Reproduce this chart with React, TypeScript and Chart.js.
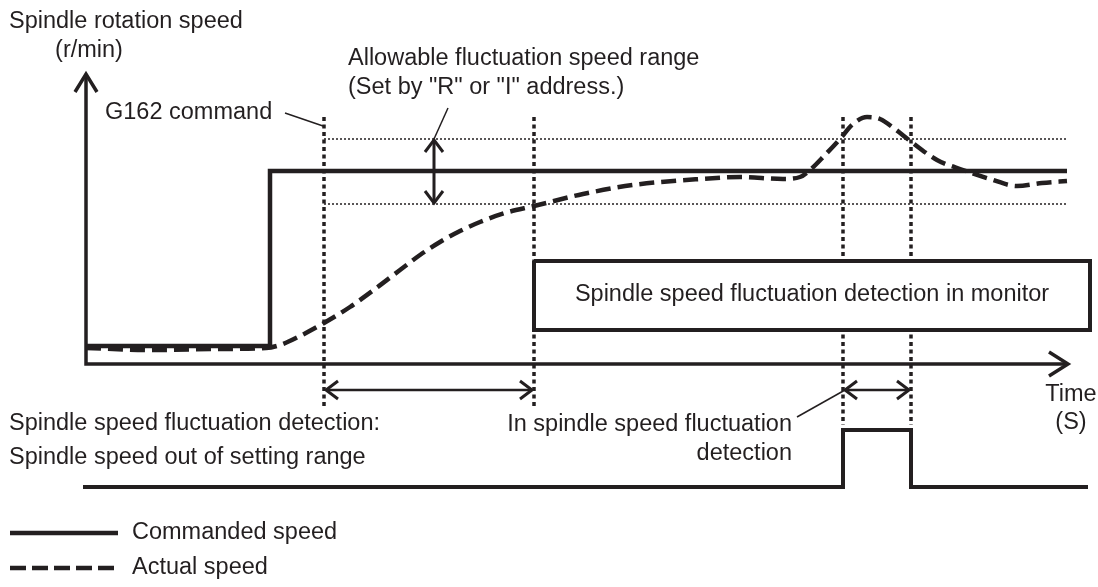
import React, { useEffect, useRef } from "react";
import { Chart, registerables } from "chart.js";

Chart.register(...registerables);

type P = { x: number; y: number };
const INK = "#231f20";
const FONT = '23.5px "Liberation Sans", Arial, sans-serif';

// Diagram units (time axis horizontally, level vertically; 0 at top)
const commandedSpeed: P[] = [
  { x: 86, y: 346 }, { x: 270, y: 346 }, { x: 270, y: 171 }, { x: 1067, y: 171 },
];
const actualSpeed: P[] = [
  { x: 86, y: 348 }, { x: 150, y: 350 }, { x: 220, y: 349 }, { x: 266, y: 348 },
  { x: 280, y: 345 }, { x: 300, y: 336 }, { x: 324, y: 323 }, { x: 350, y: 307 },
  { x: 375, y: 289 }, { x: 400, y: 270 }, { x: 420, y: 255 }, { x: 440, y: 242 },
  { x: 460, y: 231 }, { x: 480, y: 222 }, { x: 505, y: 213 }, { x: 534, y: 206 },
  { x: 583, y: 194 }, { x: 633, y: 185 }, { x: 700, y: 179 },
  { x: 740, y: 177 }, { x: 783, y: 179 }, { x: 800, y: 177 }, { x: 810, y: 170 },
  { x: 825, y: 155 }, { x: 840, y: 139 }, { x: 853, y: 124 }, { x: 867, y: 117 },
  { x: 880, y: 119 }, { x: 895, y: 129 }, { x: 909, y: 140 }, { x: 937, y: 160 },
  { x: 963, y: 170 }, { x: 990, y: 179 }, { x: 1017, y: 186 }, { x: 1042, y: 183 },
  { x: 1067, y: 181 },
];
const detectionSignal: P[] = [
  { x: 83, y: 487 }, { x: 843, y: 487 }, { x: 843, y: 430 }, { x: 911, y: 430 },
  { x: 911, y: 487 }, { x: 1088, y: 487 },
];
const axesLine: P[] = [{ x: 86, y: 75 }, { x: 86, y: 364 }, { x: 1067, y: 364 }];
const yAxisHead: P[] = [{ x: 75, y: 92 }, { x: 86, y: 74 }, { x: 97, y: 92 }];
const xAxisHead: P[] = [{ x: 1049, y: 352 }, { x: 1068, y: 364 }, { x: 1049, y: 376 }];

const markerTimes = [324, 534, 843, 911];
const markerTop = 117;
const markerBottoms = [408, 408, 425, 425];

const bandUpper = 139;
const bandLower = 204;
const bandStart = 324;
const bandEnd = 1067;

const monitorBox: P[] = [
  { x: 534, y: 261 }, { x: 1090, y: 261 }, { x: 1090, y: 330 }, { x: 534, y: 330 }, { x: 534, y: 261 },
];

const rangeArrowShaft: P[] = [{ x: 434, y: 141 }, { x: 434, y: 202 }];
const rangeArrowTop: P[] = [{ x: 425, y: 152 }, { x: 434, y: 140 }, { x: 443, y: 152 }];
const rangeArrowBottom: P[] = [{ x: 425, y: 191 }, { x: 434, y: 203 }, { x: 443, y: 191 }];

const spanArrows: [number, number][] = [[326, 532], [845, 909]];
const spanArrowY = 390;

const leaders: P[][] = [
  [{ x: 285, y: 113 }, { x: 323, y: 126 }],
  [{ x: 448, y: 108 }, { x: 434, y: 139 }],
  [{ x: 797, y: 417 }, { x: 845, y: 390 }],
];

const legendSolid: P[] = [{ x: 10, y: 533 }, { x: 118, y: 533 }];
const legendDashed: P[] = [{ x: 10, y: 568 }, { x: 118, y: 568 }];

const labels: { text: string; x: number; y: number; align: CanvasTextAlign }[] = [
  { text: "Spindle rotation speed", x: 9, y: 22, align: "left" },
  { text: "(r/min)", x: 89, y: 51, align: "center" },
  { text: "G162 command", x: 105, y: 113, align: "left" },
  { text: "Allowable fluctuation speed range", x: 348, y: 59, align: "left" },
  { text: "(Set by \"R\" or \"I\" address.)", x: 348, y: 88, align: "left" },
  { text: "Spindle speed fluctuation detection in monitor", x: 812, y: 295, align: "center" },
  { text: "Time", x: 1071, y: 395, align: "center" },
  { text: "(S)", x: 1071, y: 423, align: "center" },
  { text: "Spindle speed fluctuation detection:", x: 9, y: 424, align: "left" },
  { text: "Spindle speed out of setting range", x: 9, y: 458, align: "left" },
  { text: "In spindle speed fluctuation", x: 792, y: 425, align: "right" },
  { text: "detection", x: 792, y: 454, align: "right" },
  { text: "Commanded speed", x: 132, y: 533, align: "left" },
  { text: "Actual speed", x: 132, y: 568, align: "left" },
];

function seg(data: P[], width: number, dash: number[] = [], extra: any = {}) {
  return {
    data,
    borderColor: INK,
    borderWidth: width,
    borderDash: dash,
    pointRadius: 0,
    tension: 0,
    fill: false,
    clip: false as any,
    borderCapStyle: "butt" as CanvasLineCap,
    borderJoinStyle: "miter" as CanvasLineJoin,
    ...extra,
  };
}

const textPlugin = {
  id: "diagramText",
  afterDatasetsDraw(chart: any) {
    const { ctx, scales } = chart;
    ctx.save();
    ctx.fillStyle = INK;
    ctx.font = FONT;
    ctx.textBaseline = "middle";
    for (const l of labels) {
      ctx.textAlign = l.align;
      ctx.fillText(l.text, scales.x.getPixelForValue(l.x), scales.y.getPixelForValue(l.y));
    }
    ctx.restore();
  },
};

export default function App() {
  const ref = useRef<HTMLCanvasElement | null>(null);
  useEffect(() => {
    if (!ref.current) return;
    const datasets: any[] = [];
    let order = 100;
    const add = (d: any) => { d.order = order--; datasets.push(d); };
    add(seg(axesLine, 3.5));
    add(seg(yAxisHead, 3.5));
    add(seg(xAxisHead, 3.5));
    markerTimes.forEach((t, i) =>
      add(seg([{ x: t, y: markerTop }, { x: t, y: markerBottoms[i] }], 3.5, [4, 3.5]))
    );
    add(seg([{ x: bandStart, y: bandUpper }, { x: bandEnd, y: bandUpper }], 1.5, [2, 2]));
    add(seg([{ x: bandStart, y: bandLower }, { x: bandEnd, y: bandLower }], 1.5, [2, 2]));
    add(seg(commandedSpeed, 4.5));
    add(seg(actualSpeed, 4.5, [15, 7], { cubicInterpolationMode: "monotone" }));
    add(seg(monitorBox, 4, [], { fill: "shape", backgroundColor: "#ffffff" }));
    add(seg(detectionSignal, 4));
    add(seg(rangeArrowShaft, 3));
    add(seg(rangeArrowTop, 3));
    add(seg(rangeArrowBottom, 3));
    spanArrows.forEach(([a, b]) => {
      add(seg([{ x: a + 1, y: spanArrowY }, { x: b - 1, y: spanArrowY }], 2.5));
      add(seg([{ x: a + 12, y: spanArrowY - 9 }, { x: a, y: spanArrowY }, { x: a + 12, y: spanArrowY + 9 }], 3));
      add(seg([{ x: b - 12, y: spanArrowY - 9 }, { x: b, y: spanArrowY }, { x: b - 12, y: spanArrowY + 9 }], 3));
    });
    leaders.forEach((l) => add(seg(l, 1.5)));
    add(seg(legendSolid, 4.5));
    add(seg(legendDashed, 4.5, [16, 6]));

    const chart = new Chart(ref.current, {
      type: "line",
      data: { datasets },
      options: {
        responsive: false,
        maintainAspectRatio: false,
        animation: false,
        layout: { padding: 0 },
        plugins: { legend: { display: false }, tooltip: { enabled: false }, filler: { drawTime: "beforeDatasetDraw" } as any },
        events: [],
        scales: {
          x: { type: "linear", min: 0, max: 1098, display: false },
          y: { type: "linear", min: 0, max: 587, reverse: true, display: false },
        },
      },
      plugins: [textPlugin],
    });
    return () => chart.destroy();
  }, []);
  return (
    <div style={{ position: "absolute", left: 0, top: 0, width: 1098, height: 587, background: "#fff" }}>
      <canvas ref={ref} width={1098} height={587} style={{ display: "block", width: 1098, height: 587 }} />
    </div>
  );
}
